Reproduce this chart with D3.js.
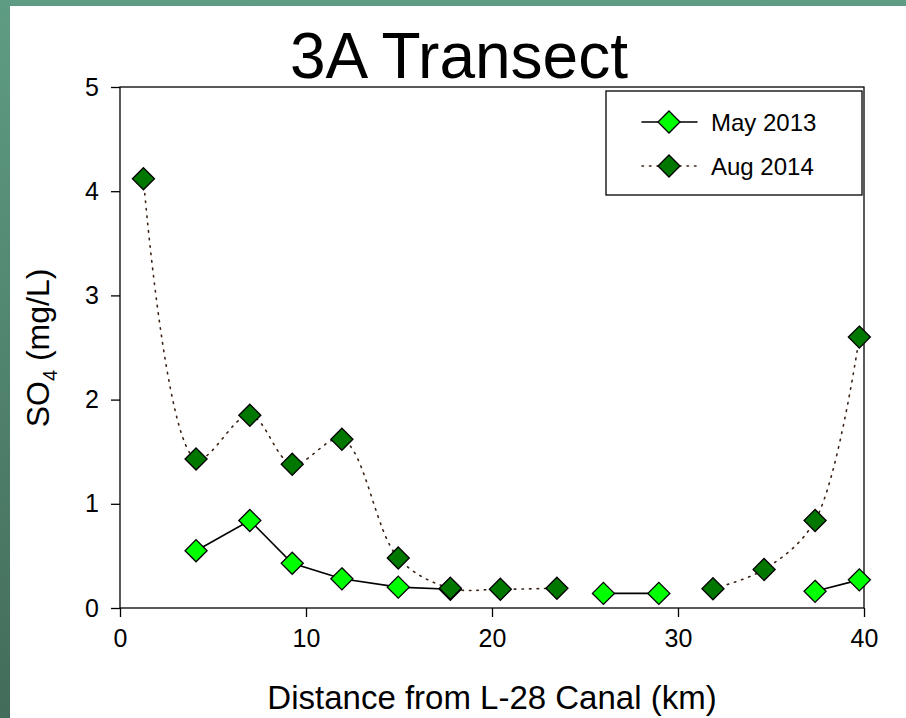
<!DOCTYPE html>
<html>
<head>
<meta charset="utf-8">
<script src="https://cdn.jsdelivr.net/npm/d3@7"></script>
<style>
  body { margin: 0; background: #fff; }
  svg { display: block; font-family: "Liberation Sans", Arial, sans-serif; }
</style>
</head>
<body>
<div id="chart"></div>
<script>
// distance from L-28 canal (km), one entry per station
var distance = [1.26, 4.09, 6.98, 9.26, 11.93, 14.96, 17.76, 20.45, 23.49, 25.99, 28.97, 31.88, 34.63, 37.37, 39.75];
// SO4 (mg/L), null = not sampled
var may2013 = [null, 0.55, 0.84, 0.43, 0.28, 0.20, 0.18, null, null, 0.14, 0.14, null, null, 0.16, 0.27];
var aug2014 = [4.12, 1.43, 1.85, 1.38, 1.62, 0.48, 0.19, 0.18, 0.19, null, null, 0.185, 0.37, 0.84, 2.60];
var xTicks = [0, 10, 20, 30, 40];
var yTicks = [0, 1, 2, 3, 4, 5];

var width = 906, height = 718;
var plot = { left: 120, right: 864, top: 87, bottom: 608 };

var svg = d3.select("#chart").append("svg")
    .attr("width", width)
    .attr("height", height);

// slide background border
var grad = svg.append("defs").append("linearGradient")
    .attr("id", "bg")
    .attr("x1", 0).attr("y1", 0).attr("x2", 0).attr("y2", 1);
grad.append("stop").attr("offset", "0%").attr("stop-color", "#5f9c84");
grad.append("stop").attr("offset", "100%").attr("stop-color", "#436c5a");

svg.append("rect").attr("width", width).attr("height", height).attr("fill", "url(#bg)");
svg.append("rect").attr("x", 10).attr("y", 6).attr("width", width - 10).attr("height", height - 6).attr("fill", "#fff");

var x = d3.scaleLinear().domain([0, 40]).range([plot.left, plot.right]);
var y = d3.scaleLinear().domain([0, 5]).range([plot.bottom, plot.top]);

// frame
svg.append("rect")
    .attr("x", plot.left).attr("y", plot.top)
    .attr("width", plot.right - plot.left).attr("height", plot.bottom - plot.top)
    .attr("fill", "none").attr("stroke", "#000").attr("stroke-width", 1.3);

var xAxis = svg.append("g")
    .attr("transform", "translate(0," + plot.bottom + ")")
    .call(d3.axisBottom(x).tickValues(xTicks).tickFormat(d3.format("d")).tickSize(9).tickPadding(12));
var yAxis = svg.append("g")
    .attr("transform", "translate(" + plot.left + ",0)")
    .call(d3.axisLeft(y).tickValues(yTicks).tickFormat(d3.format("d")).tickSize(9).tickPadding(12));

[xAxis, yAxis].forEach(function (g) {
    g.select(".domain").remove();
    g.selectAll("line").attr("stroke", "#000").attr("stroke-width", 1.3);
    g.selectAll("text").attr("fill", "#000").style("font-size", "25px")
        .style("font-family", "'Liberation Sans', Arial, sans-serif");
});

// titles
svg.append("text")
    .attr("x", 459).attr("y", 78)
    .attr("text-anchor", "middle")
    .style("font-size", "64px")
    .text("3A Transect");

svg.append("text")
    .attr("x", 492).attr("y", 709)
    .attr("text-anchor", "middle")
    .style("font-size", "33px")
    .text("Distance from L-28 Canal (km)");

var ylab = svg.append("text")
    .attr("transform", "translate(49,348) rotate(-90)")
    .attr("text-anchor", "middle")
    .style("font-size", "32px");
ylab.append("tspan").text("SO");
ylab.append("tspan").attr("dy", 8).style("font-size", "20px").text("4");
ylab.append("tspan").attr("dy", -8).text(" (mg/L)");

// series
var series = [
    { name: "May 2013", values: may2013, fill: "#00ff00", stroke: "#000", dash: null, curve: d3.curveLinear },
    { name: "Aug 2014", values: aug2014, fill: "#007800", stroke: "#3a2418", dash: "1.5,6", curve: d3.curveCatmullRom }
];

var diamond = d3.symbol().type(d3.symbolDiamond2).size(310);

series.slice().reverse().forEach(function (s) {
    var pts = distance.map(function (d, i) { return { x: d, v: s.values[i] }; });
    var line = d3.line()
        .defined(function (d) { return d.v != null; })
        .x(function (d) { return x(d.x); })
        .y(function (d) { return y(d.v); })
        .curve(s.curve);
    svg.append("path")
        .attr("d", line(pts))
        .attr("fill", "none")
        .attr("stroke", s.stroke)
        .attr("stroke-width", 1.6)
        .attr("stroke-dasharray", s.dash)
        .attr("stroke-linecap", "round");
});

series.forEach(function (s) {
    var pts = distance.map(function (d, i) { return { x: d, v: s.values[i] }; })
        .filter(function (d) { return d.v != null; });
    svg.append("g").selectAll("path")
        .data(pts)
        .enter().append("path")
        .attr("d", diamond)
        .attr("transform", function (d) { return "translate(" + x(d.x) + "," + y(d.v) + ")"; })
        .attr("fill", s.fill)
        .attr("stroke", "#000")
        .attr("stroke-width", 1.3);
});

// legend
var legend = svg.append("g");
legend.append("rect")
    .attr("x", 606).attr("y", 91).attr("width", 256).attr("height", 104)
    .attr("fill", "#fff").attr("stroke", "#000").attr("stroke-width", 1.3);

var items = legend.selectAll(".item")
    .data(series)
    .enter().append("g")
    .attr("class", "item")
    .attr("transform", function (s, i) { return "translate(0," + (122 + i * 44) + ")"; });

items.append("line")
    .attr("x1", 642).attr("x2", 697).attr("y1", 0).attr("y2", 0)
    .attr("stroke", function (s) { return s.stroke; })
    .attr("stroke-width", 1.6)
    .attr("stroke-dasharray", function (s) { return s.dash; })
    .attr("stroke-linecap", "round");

items.append("path")
    .attr("d", diamond)
    .attr("transform", "translate(669,0)")
    .attr("fill", function (s) { return s.fill; })
    .attr("stroke", "#000")
    .attr("stroke-width", 1.3);

items.append("text")
    .attr("x", 711).attr("y", 9)
    .style("font-size", "24px")
    .text(function (s) { return s.name; });
</script>
</body>
</html>
